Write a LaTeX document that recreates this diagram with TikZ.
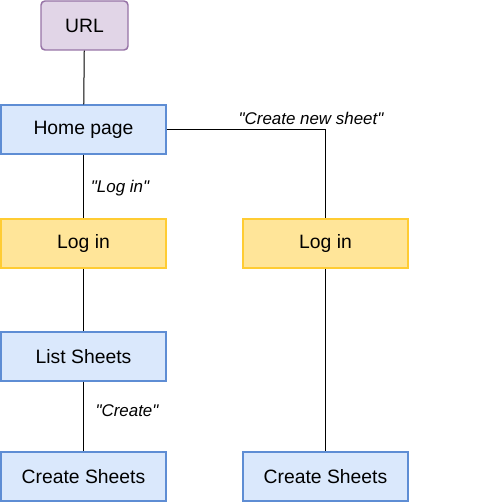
\documentclass[tikz,border=0pt]{standalone}
\usepackage{fontspec}
\setmainfont{Liberation Sans}[Ligatures=TeXOff]
\usepackage{xcolor}
\usepackage{tikz}
\usetikzlibrary{positioning}
\definecolor{urlfill}{RGB}{225,213,231}
\definecolor{urlline}{RGB}{150,115,166}
\definecolor{pagefill}{RGB}{218,232,252}
\definecolor{pageline}{RGB}{94,141,212}
\definecolor{loginfill}{RGB}{255,229,153}
\definecolor{loginline}{RGB}{255,204,51}
\tikzset{
  urlbox/.style={draw=urlline, fill=urlfill, rounded corners=3pt, line width=1.1pt, minimum width=65.25pt, minimum height=36.75pt, inner sep=0pt, font=\fontsize{14.5}{17}\selectfont},
  pagebox/.style={draw=pageline, fill=pagefill, line width=1.1pt, minimum width=123.75pt, minimum height=36.75pt, inner sep=0pt, font=\fontsize{14.5}{17}\selectfont},
  loginbox/.style={draw=loginline, fill=loginfill, line width=1.1pt, minimum width=123.75pt, minimum height=36.75pt, inner sep=0pt, font=\fontsize{14.5}{17}\selectfont},
  line/.style={draw=black, line width=0.75pt},
  edgelabel/.style={font=\fontsize{12.7}{15}\selectfont\itshape, inner sep=1pt}
}
\begin{document}
\begin{tikzpicture}[x=0.75pt,y=-0.75pt]
  \useasboundingbox (0,0) rectangle (483,503);
  \node[urlbox] (url) at (84.5,25.5) {URL};
  \node[pagebox] (home) at (83.5,129.5) {Home page};
  \node[loginbox] (loginl) at (83.5,243.5) {Log in};
  \node[loginbox] (loginr) at (325.5,243.5) {Log in};
  \node[pagebox] (list) at (83.5,356.5) {List Sheets};
  \node[pagebox] (createl) at (83.5,476.5) {Create Sheets};
  \node[pagebox] (creater) at (325.5,476.5) {Create Sheets};
  \draw[line] (url) -- (home);
  \draw[line] (home) -- (loginl);
  \draw[line] (home.east) -| (loginr.north);
  \draw[line] (loginl) -- (list);
  \draw[line] (list) -- (createl);
  \draw[line] (loginr) -- (creater);
  \node[edgelabel] (lbllogin) at (120,188) {"Log in"};
  \node[edgelabel] (lblnew) at (311,118) {"Create new sheet"};
  \node[edgelabel] (lblcreate) at (127,411) {"Create"};
\end{tikzpicture}
\end{document}
